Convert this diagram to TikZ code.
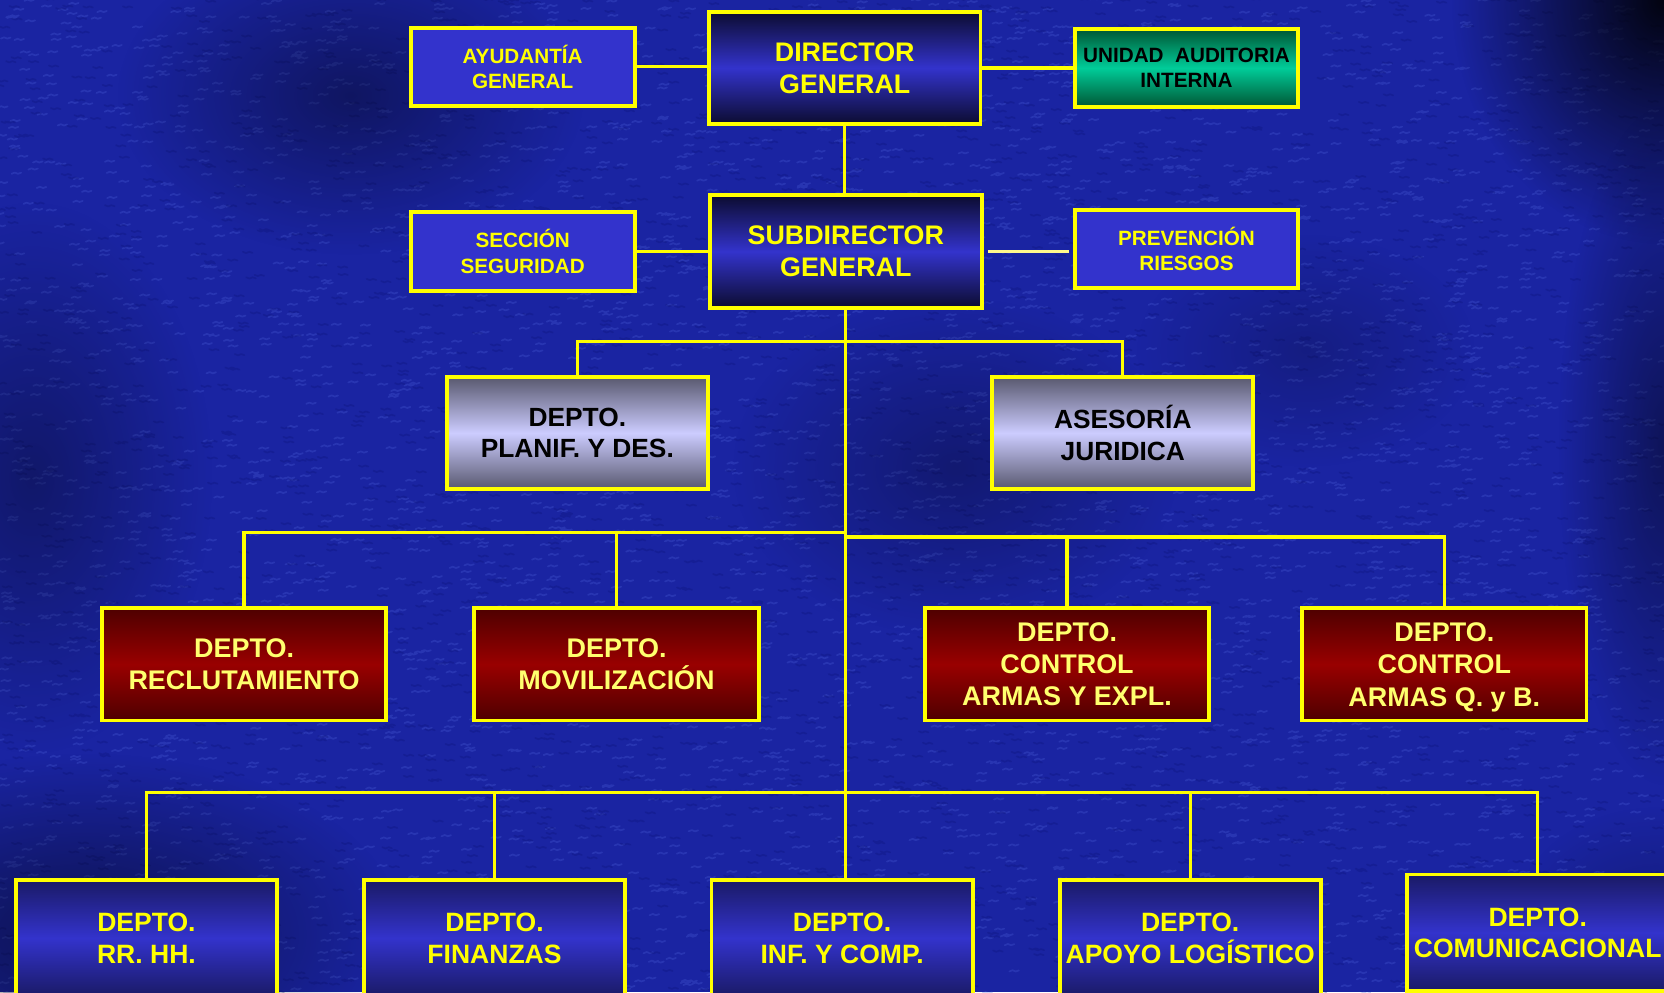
\documentclass[tikz,border=0pt]{standalone}
\usepackage{fontspec}
\setmainfont{Liberation Sans}
\usetikzlibrary{fadings}
\tikzfading[name=softblob, inner color=transparent!0, outer color=transparent!100]
\definecolor{bgblue}{RGB}{26,36,162}
\definecolor{texblue}{RGB}{75,95,215}
\definecolor{texdark}{RGB}{12,18,120}
\definecolor{boxblue}{RGB}{51,51,204}
\definecolor{navydark}{RGB}{12,12,48}
\definecolor{navytop}{RGB}{26,26,102}
\definecolor{greendark}{RGB}{0,85,51}
\definecolor{greenmid}{RGB}{0,204,153}
\definecolor{graydark}{RGB}{88,88,110}
\definecolor{graymid}{RGB}{204,204,255}
\definecolor{reddark}{RGB}{78,0,0}
\definecolor{redmid}{RGB}{153,0,0}
\definecolor{lineyellow}{RGB}{255,255,0}
\definecolor{paleyellow}{RGB}{255,255,110}
\tikzset{
  box/.style={draw=lineyellow, line width=3.6pt, rectangle, align=center, inner sep=0pt},
  smallbox/.style={box, minimum width=211pt, minimum height=74pt, fill=boxblue, text=lineyellow,
    font=\fontsize{19.5}{24}\selectfont\bfseries},
  greenbox/.style={smallbox, top color=greendark, bottom color=greendark, middle color=greenmid, text=black},
  chiefbox/.style={box, minimum width=256pt, minimum height=106pt, top color=navydark, bottom color=navydark,
    middle color=boxblue, text=lineyellow, font=\fontsize{25.3}{30}\selectfont\bfseries},
  graybox/.style={box, minimum width=246pt, minimum height=106pt, top color=graydark, bottom color=graydark,
    middle color=graymid, text=black, font=\fontsize{24.8}{30}\selectfont\bfseries},
  redbox/.style={box, minimum width=268pt, minimum height=106pt, top color=reddark, bottom color=reddark,
    middle color=redmid, text=paleyellow, font=\fontsize{25.4}{30.5}\selectfont\bfseries},
  deptbox/.style={box, minimum width=246pt, minimum height=110pt, top color=navytop, bottom color=navytop,
    middle color=boxblue, text=lineyellow, font=\fontsize{25}{30}\selectfont\bfseries},
  link/.style={draw=lineyellow, line width=3pt},
  palelink/.style={draw=yellow!45!white, line width=3pt},
  shadow/.style={fill=black, path fading=softblob},
  texlight/.style={draw=texblue, line width=1.6pt, opacity=0.3, line cap=round, line join=round},
  texdk/.style={draw=texdark, line width=1.6pt, opacity=0.3, line cap=round, line join=round}
}
\begin{document}
\begin{tikzpicture}[x=1pt,y=-1pt]
\useasboundingbox (0,0) rectangle (1568,935);
\clip (0,0) rectangle (1568,935);
% background
\fill[bgblue] (0,0) rectangle (1568,935);
\pgfmathsetseed{11}
\draw[texlight] \foreach \i in {1,...,4500} { ({rnd*1580-6},{rnd*945-5}) -- ++(3,-1.2) -- ++(3,1.2) -- ++(3,-1) };
\draw[texdk] \foreach \i in {1,...,3000} { ({rnd*1580-6},{rnd*945-5}) -- ++(3,1.2) -- ++(3,-1.2) -- ++(3,1) };
\fill[shadow, opacity=0.4] (330,90) ellipse (220pt and 150pt);
\fill[shadow, opacity=0.35] (30,450) ellipse (170pt and 260pt);
\fill[shadow, opacity=0.5] (80,880) ellipse (300pt and 170pt);
\fill[shadow, opacity=0.9] (1568,0) ellipse (200pt and 230pt);
\fill[shadow, opacity=0.45] (1568,420) ellipse (100pt and 320pt);
\fill[shadow, opacity=0.3] (900,440) ellipse (210pt and 160pt);
\fill[shadow, opacity=0.2] (1230,330) ellipse (160pt and 110pt);
\fill[shadow, opacity=0.25] (1560,880) ellipse (140pt and 120pt);

% nodes
\node[smallbox] (AYUD) at (492.5,63) {AYUDANTÍA\\GENERAL};
\node[chiefbox] (DIR) at (796,64) {DIRECTOR\\GENERAL};
\node[greenbox, minimum width=210pt] (UAI) at (1118,64) {UNIDAD\ \ AUDITORIA\\INTERNA};
\node[smallbox] (SECC) at (492.5,237) {SECCIÓN\\SEGURIDAD};
\node[chiefbox] (SUB) at (797,237) {SUBDIRECTOR\\GENERAL};
\node[smallbox, minimum width=210pt, minimum height=73pt] (PREV) at (1118,234.5) {PREVENCIÓN\\RIESGOS};

\node[graybox] (PLAN) at (544,408) {DEPTO.\\PLANIF. Y DES.};
\node[graybox] (ASES) at (1058,408) {ASESORÍA\\JURIDICA};

\node[redbox] (RECL) at (230,626) {DEPTO.\\RECLUTAMIENTO};
\node[redbox] (MOVI) at (581,626) {DEPTO.\\MOVILIZACIÓN};
\node[redbox] (CAE) at (1005.5,626) {DEPTO.\\CONTROL\\ARMAS Y EXPL.};
\node[redbox] (CAQ) at (1361,626) {DEPTO.\\CONTROL\\\smash{ARMAS Q. y B.}};

\node[deptbox] (RRHH) at (138,884) {DEPTO.\\RR. HH.};
\node[deptbox] (FIN) at (466,884) {DEPTO.\\FINANZAS};
\node[deptbox] (INF) at (793.5,884) {DEPTO.\\INF. Y COMP.};
\node[deptbox] (APO) at (1121.5,884) {DEPTO.\\APOYO LOGÍSTICO};
\node[deptbox] (COM) at (1449,879) {DEPTO.\\COMUNICACIONAL};

% bus coordinates
\coordinate (bus1) at (797,322);
\coordinate (bus2l) at (797,502);
\coordinate (bus2r) at (797,506);
\coordinate (bus3) at (797,747);

% connectors
\draw[link] (AYUD.east) -- (AYUD.east -| DIR.west);
\draw[link] (DIR.east) -- (DIR.east -| UAI.west);
\draw[link] (DIR.south) -- (DIR.south |- SUB.north);
\draw[link] (SECC.east) -- (SECC.east -| SUB.west);
\draw[palelink] ([xshift=4pt]SUB.east) -- ([xshift=-4pt]SUB.east -| PREV.west);
\draw[link] (SUB.south) -- (SUB.south |- INF.north);
\draw[link] (PLAN.north) |- (bus1) -| (ASES.north);
\draw[link] (RECL.north) |- (bus2l);
\draw[link] (MOVI.north) -- (MOVI.north |- bus2l);
\draw[link] (bus2r) -| (CAQ.north);
\draw[link] (CAE.north) -- (CAE.north |- bus2r);
\draw[link] (RRHH.north) |- (bus3) -| (COM.north);
\draw[link] (FIN.north) -- (FIN.north |- bus3);
\draw[link] (APO.north) -- (APO.north |- bus3);
\end{tikzpicture}
\end{document}
